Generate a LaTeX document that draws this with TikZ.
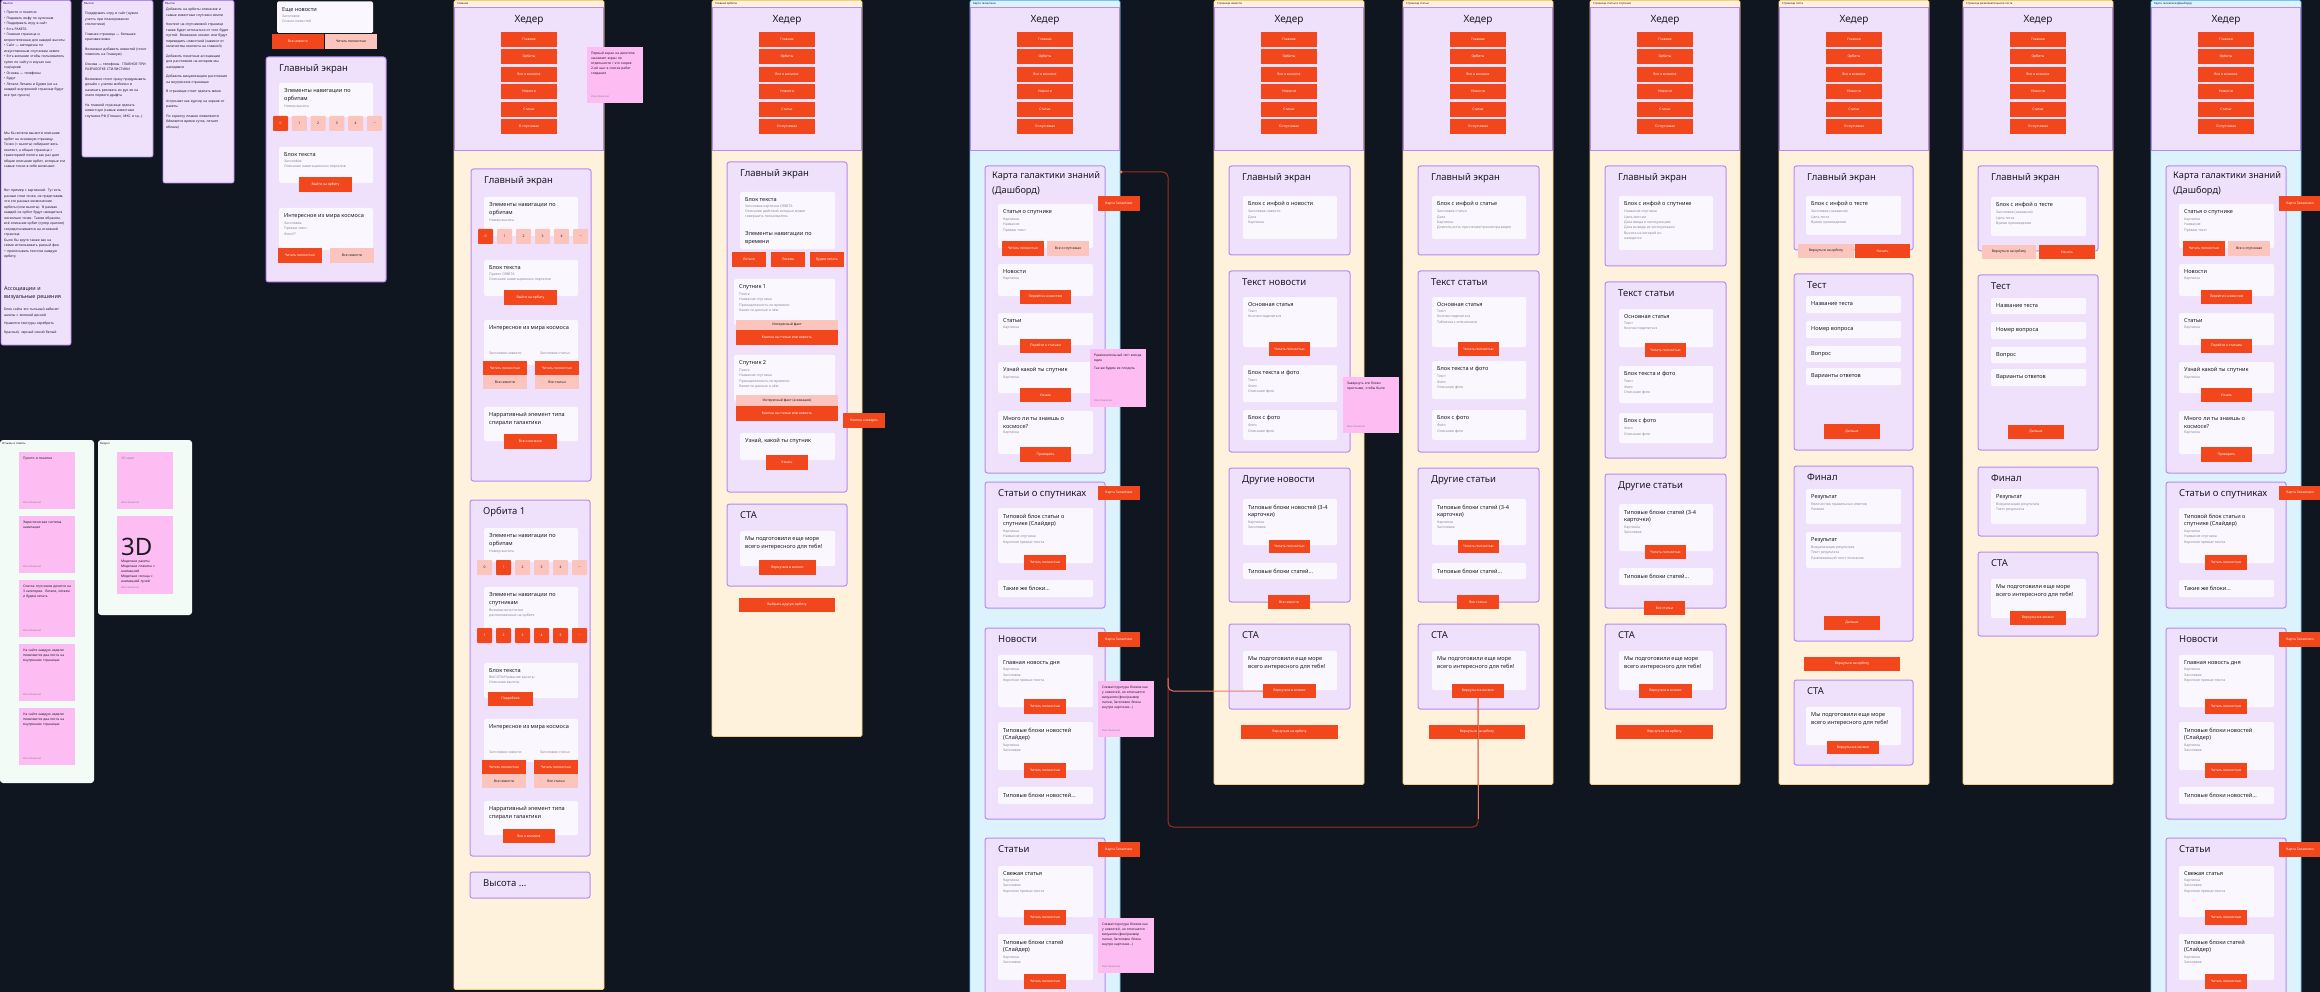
\documentclass[tikz,border=0pt]{standalone}
\usepackage{fontspec}
\setmainfont{Noto Sans}
\usetikzlibrary{positioning}

\definecolor{boardbg}{HTML}{0F161F}
\definecolor{creamfill}{HTML}{FEF2DD}
\definecolor{creamline}{HTML}{F3D07F}
\definecolor{skyfill}{HTML}{DCF2FD}
\definecolor{skyline}{HTML}{74C5EF}
\definecolor{lilacfill}{HTML}{EFE1FC}
\definecolor{lilacline}{HTML}{B58BF1}
\definecolor{cardwhite}{HTML}{FAF8FE}
\definecolor{btnred}{HTML}{F2461D}
\definecolor{btnpink}{HTML}{FBC5BD}
\definecolor{stickypink}{HTML}{FDBDF3}
\definecolor{mintfill}{HTML}{F3FBF6}
\definecolor{linkdark}{HTML}{9B2F20}
\definecolor{linklight}{HTML}{F07B66}
\definecolor{inkgrey}{HTML}{8A8794}
\definecolor{ink}{HTML}{1C1B22}

\tikzset{
  creampage/.style={fill=creamfill, draw=creamline, line width=0.8pt, rounded corners=1.5pt},
  skypage/.style={fill=skyfill, draw=skyline, line width=0.8pt, rounded corners=1.5pt},
  notepage/.style={fill=lilacfill, draw=lilacline, line width=0.8pt, rounded corners=2pt},
  mintpage/.style={fill=mintfill, draw=none, rounded corners=3pt},
  headpanel/.style={fill=lilacfill, draw=lilacline, line width=0.8pt},
  panel/.style={fill=lilacfill, draw=lilacline, line width=1pt, rounded corners=2.5pt},
  subcard/.style={fill=cardwhite, draw=none, rounded corners=1.5pt},
  redbtn/.style={fill=btnred, text=white, inner sep=0pt, font=\fontsize{3.4}{4}\selectfont},
  pinkbtn/.style={fill=btnpink, text=ink, inner sep=0pt, font=\fontsize{3.4}{4}\selectfont},
  navsq/.style={minimum size=15pt, inner sep=0pt, rounded corners=0.8pt, font=\fontsize{3.4}{4}\selectfont},
  headtitle/.style={inner sep=0pt, text=ink, font=\fontsize{10}{12}\selectfont},
  cardtitle/.style={anchor=base west, inner sep=0pt, text=ink, font=\fontsize{9.5}{12}\selectfont},
  subtitle/.style={anchor=north west, inner sep=0pt, align=left, text=ink, font=\fontsize{5.6}{7.8}\selectfont},
  hint/.style={anchor=north west, inner sep=0pt, align=left, text=inkgrey, font=\fontsize{3.5}{5.4}\selectfont},
  pagelabel/.style={anchor=west, inner sep=0pt, text=ink, font=\fontsize{2.8}{3}\selectfont},
  stickytext/.style={anchor=north west, inner sep=0pt, align=left, text width=48pt, text=ink, font=\fontsize{3.3}{5}\selectfont},
  stickyname/.style={anchor=west, inner sep=0pt, text=inkgrey, font=\fontsize{2.6}{3}\selectfont},
  notetext/.style={anchor=north west, inner sep=0pt, align=left, text width=63pt, text=ink, font=\fontsize{3.4}{5.5}\selectfont},
  link/.style={draw=linkdark, line width=1pt, rounded corners=5pt},
  linklite/.style={draw=linklight, line width=1pt, rounded corners=5pt},
}

% button: style, name, x1, y1, x2, y2, text
\newcommand\uibtn[7]{\node[#1, minimum width={#5-(#3)}, minimum height={#6-(#4)}] (#2) at ({(#3+#5)/2},{(#4+#6)/2}) {#7};}
% page frame: name, style, x, height, label
\newcommand\page[5]{\draw[#2] (#3,0.5) rectangle ++(150,#4);
  \node[pagelabel] (#1) at (#3+3,3.8) {#5};}
% header block of a page
\newcommand\header[2]{\draw[headpanel] (#2+0.5,7) rectangle (#2+149.5,150);
  \node[headtitle] (#1head) at (#2+75,20.5) {Хедер};
  \foreach \lbl [count=\k] in {Главная,Орбиты,Все о космосе,Новости,Статьи,О спутниках}
    {\uibtn{redbtn}{#1nav\k}{#2+47}{32+17.4*(\k-1)}{#2+103}{47+17.4*(\k-1)}{\lbl}}}
% section card: name, x1, y1, x2, y2, title
\newcommand\card[6]{\draw[panel] (#2,#3) rectangle (#4,#5);
  \node[cardtitle] (#1) at (#2+13,#3+14.5) {#6};}
% white block: name, x1, y1, x2, y2, title, grey lines
\newcommand\sub[7]{\fill[subcard] (#2,#3) rectangle (#4,#5);
  \node[subtitle] (#1) at (#2+5,#3+5.5) {#6};
  \node[hint] (#1txt) at ([yshift=-2.5pt]#1.south west) {#7};}
% sticky note: name, x1, y1, x2, y2, text
\newcommand\sticky[6]{\fill[stickypink] (#2,#3) rectangle (#4,#5);
  \node[stickytext] (#1) at (#2+4,#3+5) {#6};
  \node[stickyname] (#1name) at (#2+4,#5-6) {Имя Фамилия};}
% row of navigation squares: prefix, x0, y0, step, items
\newcommand\navrow[5]{\foreach \lbl/\fc/\tc [count=\k] in {#5}
  {\node[navsq, fill=\fc, text=\tc] (#1\k) at ({#2+7.5+#4*(\k-1)},{#3+7.5}) {\lbl};}}
% dashboard page body
\newcommand\galaxy[2]{%
  \draw[panel] (#2+15,166) rectangle (#2+135,473);
  \node[cardtitle, anchor=north west, align=left, font=\fontsize{9.2}{15}\selectfont] (#1map) at (#2+22,171) {Карта галактики знаний\\(Дашборд)};
  \uibtn{redbtn}{#1go1}{#2+128}{196}{#2+170}{211}{Карта Галактики}
  \sub{#1s1}{#2+28}{204}{#2+123}{248}{Статья о спутнике}{Картинка\\Название\\Превью текст}
  \uibtn{redbtn}{#1s1a}{#2+32}{241}{#2+74}{256}{Читать полностью}
  \uibtn{pinkbtn}{#1s1b}{#2+77}{241}{#2+119}{256}{Все о спутниках}
  \sub{#1s2}{#2+28}{264}{#2+123}{296}{Новости}{Картинка}
  \uibtn{redbtn}{#1s2a}{#2+50}{290}{#2+101}{304}{Перейти к новостям}
  \sub{#1s3}{#2+28}{313}{#2+123}{345}{Статьи}{Картинка}
  \uibtn{redbtn}{#1s3a}{#2+50}{339}{#2+101}{353}{Перейти к статьям}
  \sub{#1s4}{#2+28}{362}{#2+123}{393}{Узнай какой ты спутник}{Картинка}
  \uibtn{redbtn}{#1s4a}{#2+50}{388}{#2+101}{402}{Узнать}
  \sub{#1s5}{#2+28}{411}{#2+123}{454}{Много ли ты знаешь о\\космосе?}{Картинка}
  \uibtn{redbtn}{#1s5a}{#2+50}{447}{#2+101}{462}{Проверить}
  \card{#1sat}{#2+15}{482}{#2+135}{608}{Статьи о спутниках}
  \uibtn{redbtn}{#1go2}{#2+128}{486}{#2+170}{500}{Карта Галактики}
  \sub{#1s6}{#2+28}{508}{#2+123}{563}{Типовой блок статьи о\\спутнике (Слайдер)}{Картинка\\Название спутника\\Короткое превью текста}
  \uibtn{redbtn}{#1s6a}{#2+54}{555}{#2+96}{570}{Читать полностью}
  \sub{#1s7}{#2+28}{580}{#2+123}{597}{Такие же блоки...}{}
  \card{#1news}{#2+15}{628}{#2+135}{819}{Новости}
  \uibtn{redbtn}{#1go3}{#2+128}{632}{#2+170}{647}{Карта Галактики}
  \sub{#1s8}{#2+28}{655}{#2+123}{707}{Главная новость дня}{Картинка\\Заголовок\\Короткое превью текста}
  \uibtn{redbtn}{#1s8a}{#2+54}{699}{#2+96}{714}{Читать полностью}
  \sub{#1s9}{#2+28}{722}{#2+123}{770}{Типовые блоки новостей\\(Слайдер)}{Картинка\\Заголовок}
  \uibtn{redbtn}{#1s9a}{#2+54}{763}{#2+96}{778}{Читать полностью}
  \sub{#1s10}{#2+28}{787}{#2+123}{804}{Типовые блоки новостей...}{}
  \card{#1art}{#2+15}{838}{#2+135}{1010}{Статьи}
  \uibtn{redbtn}{#1go4}{#2+128}{842}{#2+170}{857}{Карта Галактики}
  \sub{#1s11}{#2+28}{866}{#2+123}{917}{Свежая статья}{Картинка\\Заголовок\\Короткое превью текста}
  \uibtn{redbtn}{#1s11a}{#2+54}{910}{#2+96}{925}{Читать полностью}
  \sub{#1s12}{#2+28}{934}{#2+123}{980}{Типовые блоки статей\\(Слайдер)}{Картинка\\Заголовок}
  \uibtn{redbtn}{#1s12a}{#2+54}{974}{#2+96}{989}{Читать полностью}}

\begin{document}
\begin{tikzpicture}[x=1pt, y=-1pt]
  \useasboundingbox (0,0) rectangle (2320,992);
  \fill[boardbg] (0,0) rectangle (2320,992);
  \clip (0,0) rectangle (2320,992);

  % notes on the left
  \draw[notepage] (1,0.5) rectangle (71,345);
  \node[pagelabel] (n1lbl) at (3,3.8) {Мысли};
  \node[notetext] (n1a) at (4,11) {• Просто и понятно\\• Подавать инфу по кусочкам\\• Поддержать игру в сайт\\• Есть РАКЕТА\\• Главная страница и второстепенная для каждой высоты\\• Сайт — методичка по искусственным спутникам земли\\• Есть желание чтобы пользователь гулял по сайту и изучал как гид/архив\\• Основа — телефоны\\• Будут\\• Летали Летаем и Будем (не на каждой внутренней странице будут все три пункта)};
  \node[notetext] (n1b) at (4,132) {Мы бы хотели вынести описание орбит на основную страницу.\\Точки (= высоты) собирают весь контент, а общая страница с траекторией полета как раз дает общее описание орбит, которые эти самые точки в себе включают.};
  \node[notetext] (n1c) at (4,189) {Вот пример с картинкой. Тут есть разные слои точек, их представим, что это разные космические орбиты (или высоты). В рамках каждой из орбит будут находиться несколько точек. Таким образом, всё описание орбит (супер краткое) сосредотачивается на основной странице.\\Было бы круто также как на схеме использовать разный фон + прописывать текстом каждую орбиту.};
  \node[notetext, font=\fontsize{5.4}{8}\selectfont] (n1d) at (4,286) {Ассоциации и\\визуальные решения};
  \node[notetext] (n1e) at (4,308) {Блок сайта это тыльный кабинет школы с зеленой доской\\[3pt]Нравится текстуры серебрить\\[3pt]Красный, черный синий белый};

  \draw[notepage] (82,0.5) rectangle (153,157);
  \node[pagelabel] (n2lbl) at (84,3.8) {Мысли};
  \node[notetext] (n2a) at (85,12) {Поддержать игру и сайт (нужно учесть при планировании стилистики)\\[4pt]Главная страница — большая красивая вижн\\[4pt]Возможно добавить новостей (стоит повесить на Главную)\\[4pt]Основа — телефоны. ГЛАВНОЕ ПРИ РАЗРАБОТКЕ СТИЛИСТИКИ\\[4pt]Возможно стоит сразу продумывать дизайн с учетом мобилки и начинать рисовать из рук ее на этапе первого драфта\\[4pt]На главной странице сделать новостную (самые известные спутники РФ (Глонасс, МКС и тд...)};

  \draw[notepage] (163,0.5) rectangle (234,183);
  \node[pagelabel] (n3lbl) at (165,3.8) {Мысли};
  \node[notetext] (n3a) at (166,8) {Добавить на орбиты описание и самые известные спутники земли\\[4pt]Контент на спутниковой странице также будет отличаться от того будет пустой. Возможно космос или будут переводить новостной (зависит от количества контента на главной)\\[4pt]Добавить понятные ассоциации для расстояния на котором мы находимся\\[4pt]Добавить визуализацию расстояния на внутренних страницах\\[4pt]В страницах стоит сделать меню\\[4pt]Астронавт как курсор на экране от ракеты\\[4pt]По скроллу плавно появляются (Меняется время суток, летают облака)};

  % loose blocks
  \sub{Lnews}{277}{1.5}{373}{33}{Еще новости}{Заголовок\\Список новостей}
  \uibtn{redbtn}{Lnewsa}{272}{34}{324}{49}{Все новости}
  \uibtn{pinkbtn}{Lnewsb}{325}{34}{377}{49}{Читать полностью}
  \card{Lmain}{266}{57}{386}{282}{Главный экран}
  \sub{Ls1}{279}{83}{373}{117}{Элементы навигации по\\орбитам}{Номер высоты}
  \navrow{Lnav}{273}{116}{18.8}{0/btnred/white,1/btnpink/ink,2/btnpink/ink,3/btnpink/ink,4/btnpink/ink,\dots/btnpink/ink}
  \sub{Ls2}{279}{147}{373}{183}{Блок текста}{Заголовок\\Описание навигационных порталов}
  \uibtn{redbtn}{Ls2a}{299}{177}{352}{192}{Выйти на орбиту}
  \sub{Ls3}{279}{208}{373}{250}{Интересное из мира космоса}{Заголовок\\Превью текст\\Фото??}
  \uibtn{redbtn}{Ls3a}{278}{248}{322}{263}{Читать полностью}
  \uibtn{pinkbtn}{Ls3b}{330}{248}{374}{263}{Все новости}

  % feedback and visual boards
  \fill[mintpage] (0,440) rectangle (94,783);
  \node[pagelabel] (fblbl) at (2,443.5) {Отзывы и советы};
  \sticky{fb1}{19}{452}{75}{509}{Просто и понятно}
  \sticky{fb2}{19}{516}{75}{573}{Эвристическая система навигации}
  \sticky{fb3}{19}{580}{75}{637}{Список спутников делится на 3 категории. Летали, летаем и будем летать}
  \sticky{fb4}{19}{644}{75}{701}{На сайте каждую неделю появляются два поста на внутренних страницах}
  \sticky{fb5}{19}{708}{75}{765}{На сайте каждую неделю появляются два поста на внутренних страницах}
  \fill[mintpage] (98,440) rectangle (192,615);
  \node[pagelabel] (vislbl) at (100,443.5) {Визуал};
  \sticky{vis1}{117}{452}{173}{509}{\textcolor{inkgrey}{3D идеи}}
  \sticky{vis2}{117}{516}{173}{594}{}
  \node[anchor=base west, inner sep=0pt, text=ink, font=\fontsize{24}{26}\selectfont] (vis3d) at (121,555) {3D};
  \node[stickytext] (vis2b) at (121,560) {Модельки ракеты\\Модельки планеты с анимацией\\Модельки солнца с анимацией лучей};

  % main page
  \page{Apage}{creampage}{454}{989}{Главная}
  \header{A}{454}
  \sticky{Anote}{587}{47}{643}{103}{Первый экран на десктопе занимает экран по отдельности / это скорее 2-ой шаг в списке работ создания}
  \card{Amain}{471}{169}{591}{481}{Главный экран}
  \sub{As1}{484}{197}{578}{236}{Элементы навигации по\\орбитам}{Номер высоты}
  \navrow{Anav}{478}{229}{19}{0/btnred/white,1/btnpink/ink,2/btnpink/ink,3/btnpink/ink,4/btnpink/ink,\dots/btnpink/ink}
  \sub{As2}{484}{260}{578}{296}{Блок текста}{Проект ORBITA\\Описание навигационных порталов}
  \uibtn{redbtn}{As2a}{504}{290}{557}{305}{Выйти на орбиту}
  \sub{As3}{484}{320}{578}{365}{Интересное из мира космоса}{}
  \node[hint, anchor=west] (As3l) at (489,353) {Заголовок новости};
  \node[hint, anchor=west] (As3r) at (540,353) {Заголовок статьи};
  \uibtn{redbtn}{As3a}{483}{361}{527}{375}{Читать полностью}
  \uibtn{redbtn}{As3b}{535}{361}{579}{375}{Читать полностью}
  \uibtn{pinkbtn}{As3c}{483}{375}{527}{389}{Все новости}
  \uibtn{pinkbtn}{As3d}{535}{375}{579}{389}{Все статьи}
  \sub{As4}{484}{407}{578}{441}{Нарративный элемент типа\\спирали галактики}{}
  \uibtn{redbtn}{As4a}{504}{434}{557}{449}{Все о космосе}
  \card{Aorbit}{470}{500}{590}{856}{Орбита 1}
  \sub{Ao1}{484}{528}{578}{562}{Элементы навигации по\\орбитам}{Номер высоты}
  \navrow{Ao1n}{477}{560}{19}{0/btnpink/ink,1/btnred/white,2/btnpink/ink,3/btnpink/ink,4/btnpink/ink,\dots/btnpink/ink}
  \sub{Ao2}{484}{587}{578}{630}{Элементы навигации по\\спутникам}{Возможность/точки\\расположенные на орбите}
  \navrow{Ao2n}{477}{628}{19}{1/btnred/white,2/btnred/white,3/btnred/white,4/btnred/white,5/btnred/white,\dots/btnred/white}
  \sub{Ao3}{484}{663}{578}{698}{Блок текста}{ВЫСОТА/Название высоты\\Описание высоты}
  \uibtn{redbtn}{Ao3a}{488}{692}{533}{706}{Подробнее}
  \sub{Ao4}{484}{719}{578}{762}{Интересное из мира космоса}{}
  \node[hint, anchor=west] (Ao4l) at (489,752) {Заголовок новости};
  \node[hint, anchor=west] (Ao4r) at (540,752) {Заголовок статьи};
  \uibtn{redbtn}{Ao4a}{482}{760}{526}{774}{Читать полностью}
  \uibtn{redbtn}{Ao4b}{534}{760}{578}{774}{Читать полностью}
  \uibtn{pinkbtn}{Ao4c}{482}{774}{526}{788}{Все новости}
  \uibtn{pinkbtn}{Ao4d}{534}{774}{578}{788}{Все статьи}
  \sub{Ao5}{484}{801}{578}{835}{Нарративный элемент типа\\спирали галактики}{}
  \uibtn{redbtn}{Ao5a}{503}{829}{555}{843}{Все о космосе}
  \card{Aheight}{470}{872}{590}{898}{Высота ...}

  % orbit page
  \page{Bpage}{creampage}{712}{736}{Главная орбиты}
  \header{B}{712}
  \card{Bmain}{727}{162}{847}{492}{Главный экран}
  \sub{Bs1}{740}{192}{835}{249}{Блок текста}{Заголовок карточки ORBITA\\Описание действий которые может\\совершить пользователь}
  \node[subtitle] (Bs1b) at (745,231) {Элементы навигации по\\времени};
  \uibtn{redbtn}{Bt1}{732}{252}{766}{267}{Летали}
  \uibtn{redbtn}{Bt2}{771}{252}{805}{267}{Летаем}
  \uibtn{redbtn}{Bt3}{810}{252}{844}{267}{Будем летать}
  \sub{Bs2}{734}{279}{835}{325}{Спутник 1}{Поиск\\Название спутника\\Принадлежность по времени\\Какие-то данные о нём}
  \uibtn{pinkbtn}{Bs2a}{736}{320}{838}{330}{Интересный факт}
  \uibtn{redbtn}{Bs2b}{736}{330}{838}{345}{Кнопка на статью или новость}
  \sub{Bs3}{734}{355}{835}{401}{Спутник 2}{Поиск\\Название спутника\\Принадлежность по времени\\Какие-то данные о нём}
  \uibtn{pinkbtn}{Bs3a}{736}{395}{838}{406}{Интересный факт (анимация)}
  \uibtn{redbtn}{Bs3b}{736}{406}{838}{421}{Кнопка на статью или новость}
  \uibtn{redbtn}{Bup}{843}{413}{885}{428}{Кнопка «наверх»}
  \sub{Bs4}{740}{433}{835}{460}{Узнай, какой ты спутник}{}
  \uibtn{redbtn}{Bs4a}{766}{455}{808}{470}{Узнать}
  \card{Bcta}{727}{504}{847}{586}{CTA}
  \sub{Bs5}{740}{531}{835}{566}{Мы подготовили еще море\\всего интересного для тебя!}{}
  \uibtn{redbtn}{Bs5a}{759}{560}{816}{575}{Вернуться в космос}
  \uibtn{redbtn}{Bother}{739}{598}{835}{612}{Выбрать другую орбиту}

  % galaxy map page
  \page{Cpage}{skypage}{970}{1010}{Карта галактики}
  \header{C}{970}
  \galaxy{C}{970}
  \sticky{Cnote1}{1090}{349}{1146}{407}{Развлекательный тест всегда один\\[3pt]Так же будем их плодить}
  \sticky{Cnote2}{1098}{681}{1154}{737}{Схема/структура блоков как у новостей, но отличается визуалом (фон/размер папки, Заголовок блока внутри картинки...)}
  \sticky{Cnote3}{1098}{918}{1154}{973}{Схема/структура блоков как у новостей, но отличается визуалом (фон/размер папки, Заголовок блока внутри картинки...)}

  % news page
  \page{Dpage}{creampage}{1214}{784}{Страница новости}
  \header{D}{1214}
  \card{Dmain}{1229}{166}{1350}{255}{Главный экран}
  \sub{Ds1}{1243}{196}{1337}{239}{Блок с инфой о новости}{Заголовок новости\\Дата\\Картинка}
  \card{Dtext}{1229}{271}{1350}{452}{Текст новости}
  \sub{Ds2}{1243}{297}{1337}{347}{Основная статья}{Текст\\Кнопки поделиться}
  \uibtn{redbtn}{Ds2a}{1269}{342}{1310}{356}{Читать полностью}
  \sub{Ds3}{1243}{365}{1337}{402}{Блок текста и фото}{Текст\\Фото\\Описание фото}
  \sub{Ds4}{1243}{410}{1337}{440}{Блок с фото}{Фото\\Описание фото}
  \sticky{Dnote}{1343}{377}{1399}{433}{Завернуть эти блоки простыми, чтобы было}
  \card{Dmore}{1229}{468}{1350}{602}{Другие новости}
  \sub{Ds5}{1243}{499}{1337}{545}{Типовые блоки новостей (3-4\\карточки)}{Картинка\\Заголовок}
  \uibtn{redbtn}{Ds5a}{1269}{540}{1310}{553}{Читать полностью}
  \sub{Ds6}{1243}{563}{1337}{579}{Типовые блоки статей...}{}
  \uibtn{redbtn}{Dall}{1268}{595}{1310}{609}{Все новости}
  \card{Dcard}{1229}{624}{1350}{709}{CTA}
  \sub{Ds7}{1243}{651}{1337}{690}{Мы подготовили еще море\\всего интересного для тебя!}{}
  \uibtn{redbtn}{Dcta}{1263}{684}{1316}{698}{Вернуться в космос}
  \uibtn{redbtn}{Dback}{1241}{725}{1338}{739}{Вернуться на орбиту}

  % article page
  \page{Epage}{creampage}{1403}{784}{Страница статьи}
  \header{E}{1403}
  \card{Emain}{1418}{166}{1539}{255}{Главный экран}
  \sub{Es1}{1432}{196}{1526}{239}{Блок с инфой о статье}{Заголовок статьи\\Дата\\Картинка\\Длительность прочтения/просмотра видео}
  \card{Etext}{1418}{271}{1539}{452}{Текст статьи}
  \sub{Es2}{1432}{297}{1526}{347}{Основная статья}{Текст\\Кнопки поделиться\\Табличка с опечатками}
  \uibtn{redbtn}{Es2a}{1458}{342}{1499}{356}{Читать полностью}
  \sub{Es3}{1432}{361}{1526}{399}{Блок текста и фото}{Текст\\Фото\\Описание фото}
  \sub{Es4}{1432}{410}{1526}{440}{Блок с фото}{Фото\\Описание фото}
  \card{Emore}{1418}{468}{1539}{602}{Другие статьи}
  \sub{Es5}{1432}{499}{1526}{545}{Типовые блоки статей (3-4\\карточки)}{Картинка\\Заголовок}
  \uibtn{redbtn}{Es5a}{1458}{540}{1499}{553}{Читать полностью}
  \sub{Es6}{1432}{563}{1526}{579}{Типовые блоки статей...}{}
  \uibtn{redbtn}{Eall}{1457}{595}{1499}{609}{Все статьи}
  \card{Ecard}{1418}{624}{1539}{709}{CTA}
  \sub{Es7}{1432}{651}{1526}{690}{Мы подготовили еще море\\всего интересного для тебя!}{}
  \uibtn{redbtn}{Ecta}{1452}{684}{1504}{698}{Вернуться в космос}
  \uibtn{redbtn}{Eback}{1429}{725}{1525}{739}{Вернуться на орбиту}

  % satellite article page
  \page{Fpage}{creampage}{1590}{784}{Страница статьи о спутнике}
  \header{F}{1590}
  \card{Fmain}{1605}{166}{1726}{266}{Главный экран}
  \sub{Fs1}{1619}{196}{1713}{250}{Блок с инфой о спутнике}{Название спутника\\Цель миссии\\Дата ввода в эксплуатацию\\Дата вывода из эксплуатации\\Высота на которой он\\находится}
  \card{Ftext}{1605}{282}{1726}{458}{Текст статьи}
  \sub{Fs2}{1619}{309}{1713}{347}{Основная статья}{Текст\\Кнопки поделиться}
  \uibtn{redbtn}{Fs2a}{1645}{343}{1686}{357}{Читать полностью}
  \sub{Fs3}{1619}{366}{1713}{403}{Блок текста и фото}{Текст\\Фото\\Описание фото}
  \sub{Fs4}{1619}{413}{1713}{443}{Блок с фото}{Фото\\Описание фото}
  \card{Fmore}{1605}{474}{1726}{608}{Другие статьи}
  \sub{Fs5}{1619}{504}{1713}{551}{Типовые блоки статей (3-4\\карточки)}{Картинка\\Заголовок}
  \uibtn{redbtn}{Fs5a}{1645}{545}{1686}{559}{Читать полностью}
  \sub{Fs6}{1619}{568}{1713}{585}{Типовые блоки статей...}{}
  \uibtn{redbtn}{Fall}{1644}{601}{1685}{615}{Все статьи}
  \card{Fcard}{1605}{624}{1726}{709}{CTA}
  \sub{Fs7}{1619}{651}{1713}{690}{Мы подготовили еще море\\всего интересного для тебя!}{}
  \uibtn{redbtn}{Fcta}{1639}{684}{1692}{698}{Вернуться в космос}
  \uibtn{redbtn}{Fback}{1616}{725}{1713}{739}{Вернуться на орбиту}

  % test page
  \page{Gpage}{creampage}{1779}{784}{Страница теста}
  \header{G}{1779}
  \card{Gmain}{1794}{166}{1913}{250}{Главный экран}
  \sub{Gs1}{1806}{196}{1901}{235}{Блок с инфой о тесте}{Заголовок (название)\\Цель теста\\Время прохождения}
  \uibtn{pinkbtn}{Gs1a}{1798}{244}{1854}{258}{Вернуться на орбиту}
  \uibtn{redbtn}{Gs1b}{1855}{244}{1910}{258}{Начать}
  \card{Gtest}{1794}{274}{1913}{450}{Тест}
  \sub{Gs2}{1806}{296}{1901}{313}{Название теста}{}
  \sub{Gs3}{1806}{321}{1901}{338}{Номер вопроса}{}
  \sub{Gs4}{1806}{346}{1901}{362}{Вопрос}{}
  \sub{Gs5}{1806}{368}{1901}{385}{Варианты ответов}{}
  \uibtn{redbtn}{Gnext}{1824}{424}{1880}{439}{Дальше}
  \card{Gfinal}{1794}{466}{1913}{641}{Финал}
  \sub{Gs6}{1806}{489}{1901}{524}{Результат}{Количество правильных ответов\\Резюме}
  \sub{Gs7}{1806}{532}{1901}{568}{Результат}{Визуализация результата\\Текст результата\\Развлекающий текст описания}
  \uibtn{redbtn}{Gnext2}{1824}{616}{1880}{630}{Дальше}
  \uibtn{redbtn}{Gback}{1804}{657}{1900}{671}{Вернуться на орбиту}
  \card{Gcard}{1794}{680}{1913}{765}{CTA}
  \sub{Gs8}{1806}{707}{1901}{745}{Мы подготовили еще море\\всего интересного для тебя!}{}
  \uibtn{redbtn}{Gcta}{1827}{741}{1879}{754}{Вернуться в космос}

  % fun test page
  \page{Hpage}{creampage}{1963}{784}{Страница развлекательного теста}
  \header{H}{1963}
  \card{Hmain}{1978}{166}{2098}{251}{Главный экран}
  \sub{Hs1}{1991}{197}{2086}{236}{Блок с инфой о тесте}{Заголовок (название)\\Цель теста\\Время прохождения}
  \uibtn{pinkbtn}{Hs1a}{1982}{245}{2036}{259}{Вернуться на орбиту}
  \uibtn{redbtn}{Hs1b}{2039}{245}{2095}{259}{Начать}
  \card{Htest}{1978}{275}{2098}{450}{Тест}
  \sub{Hs2}{1991}{298}{2086}{314}{Название теста}{}
  \sub{Hs3}{1991}{322}{2086}{339}{Номер вопроса}{}
  \sub{Hs4}{1991}{347}{2086}{363}{Вопрос}{}
  \sub{Hs5}{1991}{369}{2086}{386}{Варианты ответов}{}
  \uibtn{redbtn}{Hnext}{2008}{425}{2064}{439}{Дальше}
  \card{Hfinal}{1978}{467}{2098}{536}{Финал}
  \sub{Hs6}{1991}{489}{2086}{524}{Результат}{Визуализация результата\\Текст результата}
  \card{Hcard}{1978}{552}{2098}{636}{CTA}
  \sub{Hs7}{1991}{579}{2086}{618}{Мы подготовили еще море\\всего интересного для тебя!}{}
  \uibtn{redbtn}{Hcta}{2010}{611}{2066}{625}{Вернуться в космос}

  % galaxy dashboard copy
  \page{Ipage}{skypage}{2151}{1010}{Карта галактики (Дашборд)}
  \header{I}{2151}
  \galaxy{I}{2151}

  % links to the CTA buttons
  \coordinate (mapdot) at (1121,172);
  \coordinate (linkfloor) at (1168,827);
  \coordinate (linkfork) at (1168,678);
  \draw[link] (mapdot) -- (mapdot -| linkfloor) -- (linkfloor) -- (linkfloor -| Ecta.south) -- (Ecta.south);
  \draw[linklite] (Ecta.south) -- ++(0,121);
  \draw[linklite] (linkfork) |- (Dcta.west);
  \fill[linklight] (mapdot) circle (1.6pt);
\end{tikzpicture}
\end{document}
